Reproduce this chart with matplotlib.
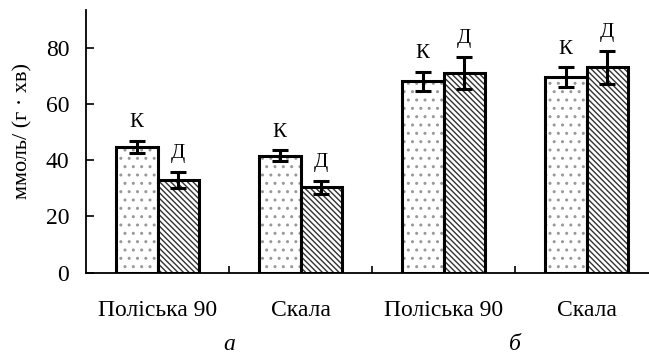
import numpy as np
import matplotlib
matplotlib.use('Agg')
import matplotlib.pyplot as plt

plt.rcParams['font.family'] = ['Liberation Serif', 'DejaVu Serif']
plt.rcParams['hatch.linewidth'] = 1.0

cultivars = ['Поліська 90', 'Скала', 'Поліська 90', 'Скала']
k_vals = [44.8, 41.6, 68.0, 69.6]        # контроль
k_err  = [2.2, 2.0, 3.4, 3.5]
d_vals = [33.0, 30.4, 71.0, 73.0]        # дослід
d_err  = [2.8, 2.3, 5.8, 5.9]
bar_labels = ['К', 'Д']
panels = ['а', 'б']

fig = plt.figure(figsize=(6.49, 3.54), dpi=100)
ax = fig.add_axes([86/649, 1 - 272.7/354, 1 - 86/649, (272.7 - 10)/354])

x = np.arange(len(cultivars))
w = 0.29
kb = ax.bar(x - w/2, k_vals, w, color='white', edgecolor='black', linewidth=2.2, hatch='..')
db = ax.bar(x + w/2, d_vals, w, color='white', edgecolor='black', linewidth=2.2, hatch='\\\\\\\\\\\\')
for b in kb:
    b._hatch_color = (0.6, 0.6, 0.6, 1.0)
for b in db:
    b._hatch_color = (0.2, 0.2, 0.2, 1.0)
ax.errorbar(x - w/2, k_vals, yerr=k_err, fmt='none', ecolor='black', elinewidth=2.2, capsize=5.5, capthick=2.2)
ax.errorbar(x + w/2, d_vals, yerr=d_err, fmt='none', ecolor='black', elinewidth=2.2, capsize=5.5, capthick=2.2)

for i in range(len(cultivars)):
    ax.annotate(bar_labels[0], (x[i] - w/2, k_vals[i] + k_err[i]), xytext=(0, 13),
                textcoords='offset points', ha='center', va='center', fontsize=15)
    ax.annotate(bar_labels[1], (x[i] + w/2, d_vals[i] + d_err[i]), xytext=(0, 13),
                textcoords='offset points', ha='center', va='center', fontsize=15)

ax.set_xlim(-0.5, 3.437)
ax.set_ylim(0, 93.4)
ax.set_yticks([0, 20, 40, 60, 80])
ax.tick_params(axis='y', direction='in', length=6, width=1.2, labelsize=17, pad=12)
ax.set_xticks(x)
ax.set_xticklabels(cultivars)
ax.tick_params(axis='x', length=0, labelsize=17, pad=20)
ax.set_xticks([0.5, 1.5, 2.5], minor=True)
ax.tick_params(axis='x', which='minor', direction='in', length=5, width=1.2)
for s in ['top', 'right']:
    ax.spines[s].set_visible(False)
ax.spines['left'].set_linewidth(1.3)
ax.spines['bottom'].set_linewidth(1.3)

fig.text(23/649, 1 - 131/354, 'ммоль/ (г · хв)', rotation=90, ha='center', va='center', fontsize=16)
for px, lab in zip([0.5, 2.5], panels):
    fig.text((86 + (px + 0.5) * 143) / 649, 1 - 344/354, lab, ha='center', va='center',
             fontsize=17, style='italic')

fig.savefig('out.png', dpi=100)
